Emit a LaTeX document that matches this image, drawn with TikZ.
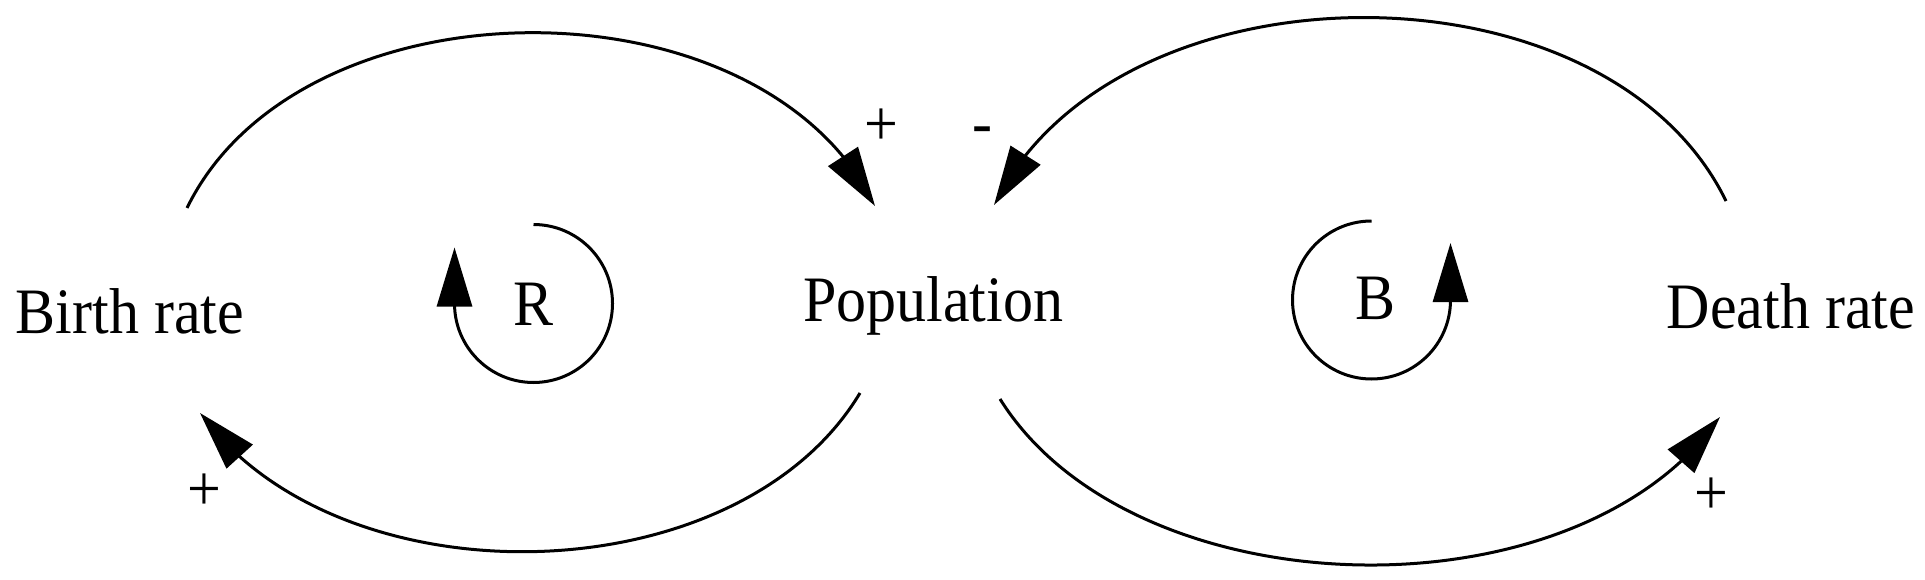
\documentclass[tikz,border=0pt]{standalone}
\usepackage{fontspec}
\setmainfont{Liberation Serif}
\usetikzlibrary{arrows.meta,bending}
\newcommand{\tallText}[1]{\scalebox{1}[1.08]{#1}}

\begin{document}
\begin{tikzpicture}[x=0.5pt,y=0.5pt,
	var/.style={inner sep=0pt,anchor=base,font=\fontsize{30pt}{36pt}\selectfont},
	sign/.style={inner sep=0pt,font=\fontsize{30pt}{36pt}\selectfont},
	link/.style={line width=1.5pt,-{Triangle[length=29.5pt,width=17.5pt]}}]
	\useasboundingbox (0,0) rectangle (1925,579);
	% variables
	\node[var] (br) at (130,245.7) {\tallText{Birth rate}};
	\node[var] (pop) at (933.3,258) {\tallText{Population}};
	\node[var] (dr) at (1791,250.7) {\tallText{Death rate}};
	% loop names
	\node[sign] (R) at (534,275) {\tallText{R}};
	\node[sign] (B) at (1375,281) {\tallText{B}};
	% ends of the links
	\coordinate (brTop) at (187,371);
	\coordinate (brBot) at (200,166);
	\coordinate (popTL) at (875,373);
	\coordinate (popBL) at (860,186);
	\coordinate (popTR) at (994,374);
	\coordinate (popBR) at (1000,180);
	\coordinate (drTop) at (1726,378);
	\coordinate (drBot) at (1720,162);
	\coordinate (Rc) at (533.5,275.5);
	\coordinate (Bc) at (1371.5,279);
	% links
	\draw[link] (brTop) to[out=64,in=116,looseness=.96] (popTL);
	\draw[link] (popBL) to[out=-121,in=-54,looseness=.92] (brBot);
	\draw[link] (drTop) to[out=116,in=64,looseness=.96] (popTR);
	\draw[link] (popBR) to[out=-58,in=-125,looseness=.89] (drBot);
	% polarities
	\node[sign] (p1) at (881,452) {\tallText{+}};
	\node[sign] (p2) at (204,87) {\tallText{+}};
	\node[sign] (m1) at (982,443) {\tallText{-}};
	\node[sign] (p3) at (1711,83) {\tallText{+}};
	% loops
	\draw[link] (Rc) ++(0,79) arc[start angle=90,end angle=-180,radius=79] -- ++(0,56);
	\draw[link] (Bc) ++(0,79) arc[start angle=90,end angle=360,radius=79] -- ++(0,57);
\end{tikzpicture}
\end{document}
